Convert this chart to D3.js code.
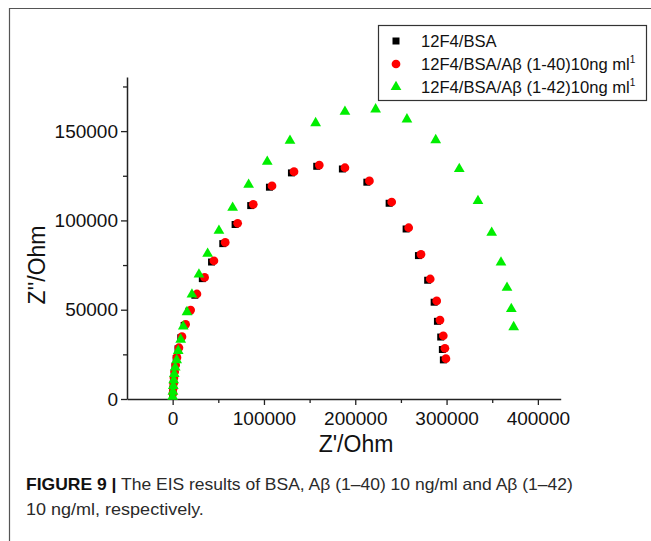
<!DOCTYPE html>
<html><head><meta charset="utf-8">
<script src="https://cdn.jsdelivr.net/npm/d3@7"></script>
<style>body{margin:0;background:#fff;} svg{display:block;font-family:"Liberation Sans",Arial,sans-serif;}</style>
</head><body>
<svg id="c" width="651" height="541"></svg>
<script>
// Data (Z' , Z'') in Ohm
const seriesNames = ["12F4/BSA", "12F4/BSA/Aβ (1-40)10ng ml", "12F4/BSA/Aβ (1-42)10ng ml"];
const bsaX = [0,300,700,1000,1700,2600,3900,5900,8900,12600,17800,24300,32500,42600,54900,68400,85500,106000,130100,157800,185900,212700,237100,255700,269200,279300,286400,290000,293600,295400,296500];
const bsaY = [2800,5500,8300,11400,14700,18400,22700,28100,34300,41200,49200,58100,67400,76700,87000,97700,108300,118600,126600,130300,128800,121400,109600,95200,80300,66500,54200,43500,34700,27700,21900];
const ab40X = [300,700,1100,1400,2200,3300,4700,6900,10200,14200,19700,26600,35000,45200,57600,71200,88300,108800,132900,160600,188700,215500,239900,258500,272000,282100,289200,292800,296400,298200,299300];
const ab40Y = [3200,6000,8800,11900,15300,19000,23300,28700,34900,41800,49800,58800,68100,77400,87700,98400,109000,119300,127300,131000,129500,122100,110300,95900,81000,67200,54900,44200,35400,28400,22600];
const ab42X = [0,300,700,1100,1800,2800,4400,6100,8800,11600,15700,21100,28800,38300,50700,65700,83200,103600,128500,156600,188700,222300,256600,288100,313900,334400,349400,359600,366200,370900,373500];
const ab42Y = [1300,4100,7300,10600,14000,17700,21800,27000,33300,40600,48700,58600,69800,81400,94200,107100,120000,132900,144600,154500,160900,162200,156600,145000,128800,110900,93100,76500,62300,50400,40300];
const xTicks = [0,100000,200000,300000,400000];
const xMinor = [50000,150000,250000,350000];
const yTicks = [0,50000,100000,150000];
const yMinor = [25000,75000,125000,175000];
const xTitle = "Z'/Ohm";
const yTitle = "Z''/Ohm";
const captionBold = "FIGURE 9 |";
const captionLine1 = " The EIS results of BSA, Aβ (1–40) 10 ng/ml and Aβ (1–42)";
const captionLine2 = "10 ng/ml, respectively.";

const svg = d3.select("#c");
const x = d3.scaleLinear().domain([-50000, 425000]).range([127, 560.7]);
const y = d3.scaleLinear().domain([0, 180300]).range([399, 77]);
const axisColor = "#222";

// frame
svg.append("path").attr("d","M9.5,541 L9.5,8.5 L651,8.5").attr("fill","none").attr("stroke","#555").attr("stroke-width",1.2);

// axes
const gx = svg.append("g").attr("transform","translate(0,399)");
gx.call(d3.axisBottom(x).tickValues(xTicks).tickFormat(d3.format("d")).tickSize(6).tickSizeOuter(0));
gx.append("g").call(d3.axisBottom(x).tickValues(xMinor).tickFormat("").tickSize(4).tickSizeOuter(0)).select(".domain").remove();
const gy = svg.append("g").attr("transform","translate(127,0)");
gy.call(d3.axisLeft(y).tickValues(yTicks).tickFormat(d3.format("d")).tickSize(6).tickSizeOuter(0));
gy.append("g").call(d3.axisLeft(y).tickValues(yMinor).tickFormat("").tickSize(4).tickSizeOuter(0)).select(".domain").remove();
svg.selectAll(".domain").attr("stroke",axisColor).attr("stroke-width",1.5);
svg.selectAll(".tick line").attr("stroke",axisColor).attr("stroke-width",1.3);
gx.selectAll(".tick text").attr("font-size",19).attr("fill","#111").attr("dy","0.71em").attr("y",13).attr("font-family","Liberation Sans, Arial, sans-serif");
gy.selectAll(".tick text").attr("font-size",19).attr("fill","#111").attr("x",-9).attr("font-family","Liberation Sans, Arial, sans-serif");

svg.append("text").attr("x",356).attr("y",452).attr("text-anchor","middle").attr("font-size",23).attr("fill","#111").text(xTitle);
svg.append("text").attr("transform","translate(45,265) rotate(-90)").attr("text-anchor","middle").attr("font-size",23).attr("fill","#111").text(yTitle);

// marks
const bsa = bsaX.map((v,i)=>({x:v,y:bsaY[i]}));
const ab40 = ab40X.map((v,i)=>({x:v,y:ab40Y[i]}));
const ab42 = ab42X.map((v,i)=>({x:v,y:ab42Y[i]}));
const sq = d3.symbol().type(d3.symbolSquare).size(49);
const ci = d3.symbol().type(d3.symbolCircle).size(60);
const tr = d3.symbol().type(d3.symbolTriangle).size(50);
svg.append("g").selectAll("path").data(bsa).join("path").attr("d",sq).attr("transform",d=>`translate(${x(d.x)},${y(d.y)})`).attr("fill","#000");
svg.append("g").selectAll("path").data(ab40).join("path").attr("d",ci).attr("transform",d=>`translate(${x(d.x)},${y(d.y)})`).attr("fill","#ff0000");
svg.append("g").selectAll("path").data(ab42).join("path").attr("d",tr).attr("transform",d=>`translate(${x(d.x)},${y(d.y)})`).attr("fill","#00ee00");

// legend
const lg = svg.append("g");
lg.append("rect").attr("x",378.5).attr("y",25.5).attr("width",268).attr("height",75).attr("fill","#fff").attr("stroke","#333").attr("stroke-width",1.2);
const sym = [sq, ci, tr], cols = ["#000","#ff0000","#00ee00"];
seriesNames.forEach((n,i)=>{
  const cy = 41 + i*23;
  lg.append("path").attr("d",sym[i]).attr("transform",`translate(396,${cy})`).attr("fill",cols[i]);
  const t = lg.append("text").attr("x",421).attr("y",cy+6).attr("font-size",16.6).attr("fill","#111").text(n);
  if(i>0) t.append("tspan").attr("font-size",10).attr("dy",-7).text("1");
});

// caption
const c1 = svg.append("text").attr("x",26).attr("y",490).attr("font-size",16.5).attr("fill","#2a2a2a");
c1.append("tspan").attr("font-weight","bold").attr("fill","#111").text(captionBold);
c1.append("tspan").text(captionLine1);
const w1 = c1.node().getComputedTextLength();
c1.attr("transform",`translate(26,0) scale(${547/w1},1) translate(-26,0)`);
const c2 = svg.append("text").attr("x",26).attr("y",515).attr("font-size",16.5).attr("fill","#2a2a2a").text(captionLine2);
const w2 = c2.node().getComputedTextLength();
c2.attr("transform",`translate(26,0) scale(${178/w2},1) translate(-26,0)`);
</script>
</body></html>
